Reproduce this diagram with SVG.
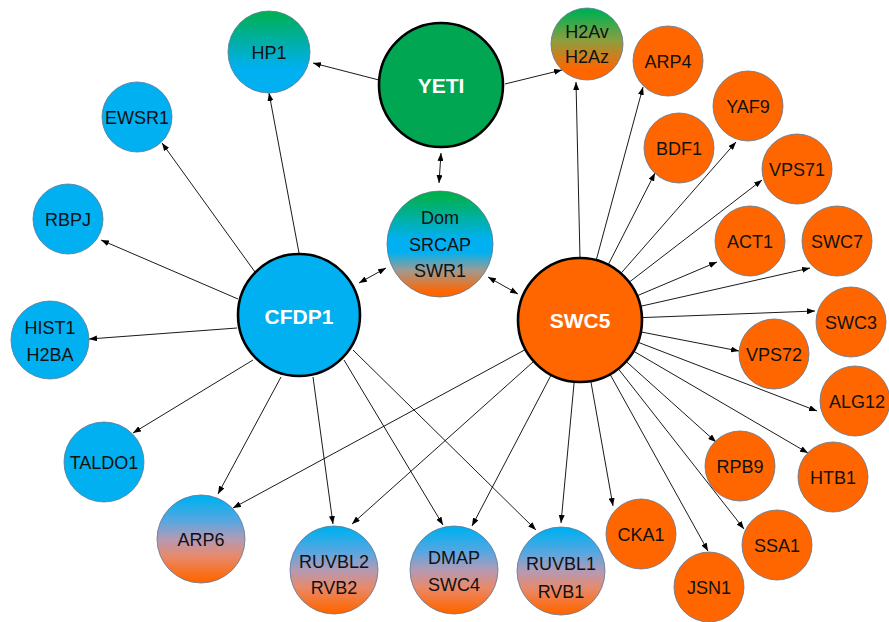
<svg xmlns="http://www.w3.org/2000/svg" width="889" height="622" viewBox="0 0 889 622">
<defs>
<marker id="ah" viewBox="0 0 8 6" refX="8" refY="3" markerWidth="8" markerHeight="6" markerUnits="userSpaceOnUse" orient="auto-start-reverse"><path d="M0,0 L8,3 L0,6 z" fill="#000"/></marker>
<linearGradient id="gHP1" x1="0" y1="0" x2="0" y2="1"><stop offset="0" stop-color="#00B050"/><stop offset="0.35" stop-color="#00AFA0"/><stop offset="0.7" stop-color="#00B0F0"/><stop offset="1" stop-color="#00B0F0"/></linearGradient>
<linearGradient id="gH2A" x1="0" y1="0" x2="0" y2="1"><stop offset="0.05" stop-color="#00B050"/><stop offset="0.45" stop-color="#8C9E40"/><stop offset="0.85" stop-color="#FF6600"/></linearGradient>
<linearGradient id="gDom" x1="0" y1="0" x2="0" y2="1"><stop offset="0.05" stop-color="#00B050"/><stop offset="0.45" stop-color="#00B0F0"/><stop offset="0.58" stop-color="#00B0F0"/><stop offset="0.75" stop-color="#A09A90"/><stop offset="0.95" stop-color="#FF6600"/></linearGradient>
<linearGradient id="gBO" x1="0" y1="0" x2="0" y2="1"><stop offset="0.03" stop-color="#00B0F0"/><stop offset="0.3" stop-color="#5AA6E0"/><stop offset="0.5" stop-color="#B49AB4"/><stop offset="0.7" stop-color="#E9896A"/><stop offset="0.97" stop-color="#FF6600"/></linearGradient>
</defs>
<style>
.e{stroke:#000;stroke-width:0.9;fill:none;marker-end:url(#ah)}
.d{marker-start:url(#ah)}
.n{stroke:#5a7694;stroke-width:0.8}
.b{fill:#00B0F0}
.o{fill:#FF6600}
.big{stroke:#000;stroke-width:2.6}
text{font-family:"Liberation Sans",Arial,sans-serif;font-size:18px;fill:#111;text-anchor:middle}
text.w{font-weight:bold;font-size:21px;fill:#fff}
</style>
<rect width="889" height="622" fill="#fff"/>
<g id="edges">
<line class="e" x1="379" y1="80" x2="313" y2="63"/>
<line class="e" x1="505" y1="84" x2="562" y2="70"/>
<line class="e d" x1="441" y1="153" x2="439" y2="183"/>
<line class="e d" x1="359" y1="283" x2="386" y2="268"/>
<line class="e d" x1="488" y1="277" x2="518" y2="294"/>
<line class="e" x1="299" y1="253" x2="269" y2="93"/>
<line class="e" x1="255" y1="272" x2="162" y2="143"/>
<line class="e" x1="238" y1="299" x2="101" y2="240"/>
<line class="e" x1="237" y1="328" x2="89" y2="339"/>
<line class="e" x1="253" y1="360" x2="133" y2="433"/>
<line class="e" x1="281" y1="377" x2="218" y2="494"/>
<line class="e" x1="313" y1="377" x2="333" y2="524"/>
<line class="e" x1="344" y1="360" x2="443" y2="525"/>
<line class="e" x1="353" y1="350" x2="536" y2="530"/>
<line class="e" x1="525.5" y1="349.5" x2="233" y2="508"/>
<line class="e" x1="533.8" y1="361.3" x2="352" y2="524"/>
<line class="e" x1="551.2" y1="374.9" x2="472" y2="526"/>
<line class="e" x1="574.2" y1="381.8" x2="561" y2="523"/>
<line class="e" x1="590.8" y1="381.1" x2="613" y2="506"/>
<line class="e" x1="610" y1="374.2" x2="708" y2="551"/>
<line class="e" x1="618.3" y1="368.8" x2="744" y2="529"/>
<line class="e" x1="626.1" y1="361.4" x2="716" y2="442"/>
<line class="e" x1="633.6" y1="351.2" x2="808" y2="453"/>
<line class="e" x1="637.9" y1="342.2" x2="817" y2="411"/>
<line class="e" x1="640.8" y1="331.9" x2="739" y2="351"/>
<line class="e" x1="641.9" y1="317.6" x2="815" y2="311"/>
<line class="e" x1="640.5" y1="306.3" x2="810" y2="268"/>
<line class="e" x1="637.1" y1="295.8" x2="717" y2="262"/>
<line class="e" x1="629.2" y1="282.2" x2="762" y2="180"/>
<line class="e" x1="620.9" y1="273.4" x2="736" y2="142"/>
<line class="e" x1="608.2" y1="264.8" x2="655" y2="173"/>
<line class="e" x1="596.2" y1="260.2" x2="643" y2="87"/>
<line class="e" x1="580" y1="258" x2="576" y2="82"/>
</g>
<g id="n-yeti"><circle class="big" cx="441" cy="85" r="62" fill="#00A651"/><text class="w" x="441" y="93">YETI</text></g>
<g id="n-hp1"><circle class="n" cx="269" cy="52" r="41" fill="url(#gHP1)"/><text x="269" y="59">HP1</text></g>
<g id="n-h2a"><circle class="n" cx="587" cy="44" r="36" fill="url(#gH2A)"/><text x="587" y="38">H2Av</text><text x="587" y="63">H2Az</text></g>
<g id="n-dom"><circle class="n" cx="440" cy="244" r="53" fill="url(#gDom)"/><text x="440" y="224">Dom</text><text x="440" y="251">SRCAP</text><text x="440" y="277">SWR1</text></g>
<g id="n-cfdp1"><circle class="big" cx="299" cy="315" r="61" fill="#00B0F0"/><text class="w" x="299" y="324">CFDP1</text></g>
<g id="n-swc5"><circle class="big" cx="580" cy="320" r="62" fill="#FF6600"/><text class="w" x="580" y="328">SWC5</text></g>
<g id="n-ewsr1"><circle class="n b" cx="137" cy="117" r="35"/><text x="137" y="124">EWSR1</text></g>
<g id="n-rbpj"><circle class="n b" cx="68" cy="219" r="35"/><text x="68" y="226">RBPJ</text></g>
<g id="n-hist1"><circle class="n b" cx="50" cy="340" r="39"/><text x="50" y="334">HIST1</text><text x="50" y="361">H2BA</text></g>
<g id="n-taldo1"><circle class="n b" cx="104" cy="462" r="40"/><text x="104" y="469">TALDO1</text></g>
<g id="n-arp6"><circle class="n" cx="201" cy="539" r="44" fill="url(#gBO)"/><text x="201" y="546">ARP6</text></g>
<g id="n-ruvbl2"><circle class="n" cx="334" cy="570" r="44" fill="url(#gBO)"/><text x="334" y="568">RUVBL2</text><text x="334" y="594">RVB2</text></g>
<g id="n-dmap"><circle class="n" cx="454" cy="570" r="44" fill="url(#gBO)"/><text x="454" y="564">DMAP</text><text x="454" y="591">SWC4</text></g>
<g id="n-ruvbl1"><circle class="n" cx="561" cy="571" r="44" fill="url(#gBO)"/><text x="561" y="570">RUVBL1</text><text x="561" y="598">RVB1</text></g>
<g id="n-cka1"><circle class="n o" cx="641" cy="534" r="35"/><text x="641" y="541">CKA1</text></g>
<g id="n-jsn1"><circle class="n o" cx="709" cy="587" r="35"/><text x="709" y="594">JSN1</text></g>
<g id="n-ssa1"><circle class="n o" cx="777" cy="545" r="35"/><text x="777" y="552">SSA1</text></g>
<g id="n-rpb9"><circle class="n o" cx="740" cy="466" r="35"/><text x="740" y="473">RPB9</text></g>
<g id="n-htb1"><circle class="n o" cx="833" cy="477" r="35"/><text x="833" y="484">HTB1</text></g>
<g id="n-alg12"><circle class="n o" cx="855" cy="401" r="35"/><text x="857" y="408">ALG12</text></g>
<g id="n-vps72"><circle class="n o" cx="774" cy="354" r="35"/><text x="774" y="361">VPS72</text></g>
<g id="n-swc3"><circle class="n o" cx="851" cy="322" r="35"/><text x="851" y="329">SWC3</text></g>
<g id="n-swc7"><circle class="n o" cx="837" cy="241" r="35"/><text x="837" y="248">SWC7</text></g>
<g id="n-act1"><circle class="n o" cx="750" cy="241" r="35"/><text x="750" y="248">ACT1</text></g>
<g id="n-vps71"><circle class="n o" cx="797" cy="169" r="35"/><text x="797" y="176">VPS71</text></g>
<g id="n-bdf1"><circle class="n o" cx="679" cy="148" r="35"/><text x="679" y="155">BDF1</text></g>
<g id="n-yaf9"><circle class="n o" cx="748" cy="106" r="35"/><text x="748" y="113">YAF9</text></g>
<g id="n-arp4"><circle class="n o" cx="668" cy="61" r="35"/><text x="668" y="68">ARP4</text></g>
</svg>
